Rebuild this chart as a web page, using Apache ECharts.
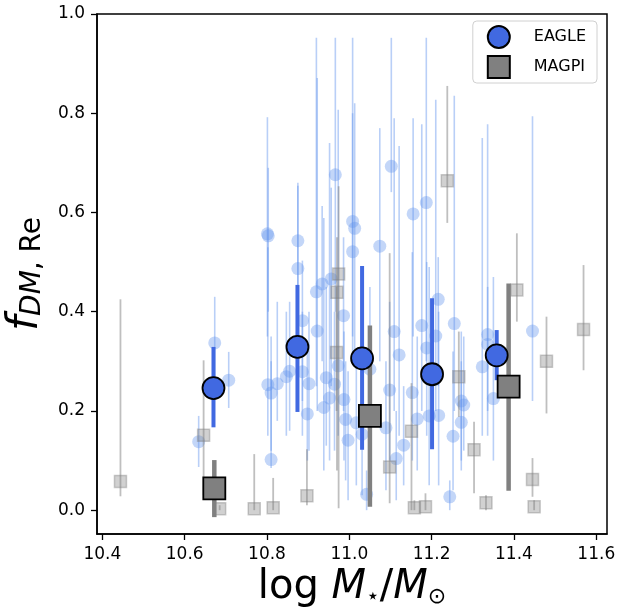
<!DOCTYPE html>
<html>
<head>
<meta charset="utf-8">
<script src="https://cdn.jsdelivr.net/npm/echarts@6/dist/echarts.min.js"></script>
<style>
html,body{margin:0;padding:0;background:#fff;}
#chart{width:617px;height:610px;}
</style>
</head>
<body>
<div id="chart"></div>
<script>
// ---- Data ----
const xTicks = [10.4, 10.6, 10.8, 11.0, 11.2, 11.4, 11.6];
const yTicks = [0.0, 0.2, 0.4, 0.6, 0.8, 1.0];

// EAGLE individual galaxies
const eagleX  = [10.634,10.673,10.707,10.801,10.803,10.802,10.810,10.825,10.810,10.847,10.875,10.875,10.855,10.886,10.886,10.902,10.898,10.920,10.934,10.956,10.922,10.944,10.938,10.952,10.966,10.964,10.973,10.986,10.987,10.991,10.997,11.008,11.013,11.008,11.017,11.031,11.042,11.050,11.074,11.098,11.089,11.102,11.109,11.121,11.114,11.132,11.153,11.155,11.165,11.176,11.187,11.188,11.194,11.210,11.216,11.217,11.244,11.252,11.255,11.272,11.278,11.272,11.323,11.336,11.336,11.350,11.445];
const eagleY  = [0.138,0.337,0.262,0.557,0.553,0.253,0.236,0.255,0.102,0.269,0.543,0.487,0.280,0.382,0.279,0.255,0.194,0.440,0.456,0.466,0.361,0.267,0.207,0.226,0.676,0.254,0.291,0.392,0.223,0.183,0.141,0.582,0.568,0.521,0.176,0.153,0.032,0.284,0.532,0.242,0.166,0.693,0.360,0.313,0.104,0.131,0.237,0.597,0.184,0.372,0.620,0.327,0.190,0.351,0.425,0.191,0.027,0.149,0.376,0.220,0.212,0.177,0.289,0.354,0.334,0.225,0.361];
const eagleLo = [0.087,0.250,0.206,0.350,0.400,0.150,0.120,0.180,0.085,0.150,0.300,0.350,0.160,0.220,0.150,0.120,0.100,0.250,0.300,0.250,0.200,0.130,0.080,0.100,0.400,0.120,0.150,0.200,0.100,0.060,0.020,0.350,0.300,0.300,0.050,0.030,0.000,0.150,0.300,0.100,0.040,0.641,0.200,0.150,0.020,0.050,0.100,0.350,0.080,0.200,0.300,0.150,0.050,0.200,0.250,0.050,0.000,0.040,0.200,0.100,0.120,0.080,0.150,0.150,0.200,0.100,0.220];
const eagleHi = [0.190,0.430,0.319,0.792,0.690,0.530,0.350,0.420,0.300,0.400,0.654,0.660,0.420,0.503,0.400,0.400,0.320,0.952,0.613,0.650,0.871,0.450,0.589,0.740,0.952,0.400,0.807,0.550,0.360,0.300,0.280,0.952,0.820,0.800,0.300,0.280,0.080,0.450,0.770,0.420,0.300,0.952,0.790,0.734,0.200,0.250,0.520,0.790,0.350,0.778,0.952,0.500,0.490,0.827,0.510,0.400,0.060,0.320,0.835,0.360,0.350,0.300,0.750,0.778,0.450,0.470,0.794];

// MAGPI individual galaxies
const magpiX  = [10.444,10.646,10.685,10.769,10.815,10.897,10.974,10.970,10.969,11.098,11.151,11.158,11.185,11.238,11.266,11.303,11.332,11.407,11.445,11.449,11.479,11.569];
const magpiY  = [0.058,0.151,0.003,0.003,0.005,0.029,0.476,0.439,0.318,0.087,0.159,0.005,0.007,0.664,0.269,0.122,0.015,0.444,0.062,0.007,0.300,0.364];
const magpiLo = [0.028,0.030,0.000,0.000,0.000,0.010,0.004,0.080,0.200,0.014,0.000,0.000,0.000,0.579,0.188,0.034,0.000,0.380,0.027,0.000,0.195,0.282];
const magpiHi = [0.425,0.302,0.010,0.113,0.065,0.123,0.653,0.550,0.450,0.518,0.256,0.020,0.034,0.855,0.360,0.178,0.030,0.558,0.105,0.020,0.390,0.494];

// Binned medians
const binEagleX  = [10.670, 10.874, 11.031, 11.201, 11.358];
const binEagleY  = [0.246, 0.329, 0.306, 0.274, 0.312];
const binEagleLo = [0.167, 0.198, 0.122, 0.123, 0.262];
const binEagleHi = [0.329, 0.454, 0.492, 0.427, 0.363];

const binMagpiX  = [10.672, 11.050, 11.387];
const binMagpiY  = [0.044, 0.190, 0.249];
const binMagpiLo = [-0.014, 0.007, 0.039];
const binMagpiHi = [0.101, 0.372, 0.457];

const legendNames = ['EAGLE', 'MAGPI'];

// ---- Build series data ----
function pts(xs, ys){ return xs.map((x,i)=>[x, ys[i]]); }
function bars(xs, lo, hi){ return xs.map((x,i)=>[x, lo[i], hi[i]]); }

function errorBarSeries(name, data, color, width, z){
  return {
    name: name,
    type: 'custom',
    z: z,
    silent: true,
    encode: {x: 0, y: [1, 2]},
    data: data,
    renderItem: function(params, api){
      const p1 = api.coord([api.value(0), api.value(1)]);
      const p2 = api.coord([api.value(0), api.value(2)]);
      return {
        type: 'line',
        shape: {x1: p1[0], y1: p1[1], x2: p2[0], y2: p2[1]},
        style: {stroke: color, lineWidth: width}
      };
    }
  };
}

const chart = echarts.init(document.getElementById('chart'), null, {renderer: 'canvas'});

const option = {
  animation: false,
  backgroundColor: '#ffffff',
  grid: {left: 97, right: 10, top: 14, bottom: 76, outerBoundsMode: 'none', containLabel: false,
         show: true, borderColor: '#000', borderWidth: 1.5, backgroundColor: 'transparent'},
  legend: {
    data: [
      {name: legendNames[0], icon: 'circle'},
      {name: legendNames[1], icon: 'path://M0,0H10V10H0Z'}
    ],
    orient: 'vertical',
    right: 20,
    top: 21,
    itemWidth: 22,
    itemHeight: 22,
    itemGap: 6,
    symbolKeepAspect: true,
    padding: [4, 11, 4, 14],
    backgroundColor: '#fff',
    borderColor: '#d0d0d0',
    borderWidth: 1,
    borderRadius: 4,
    formatter: '{t|{name}}',
    textStyle: {
      fontFamily: 'DejaVu Sans', fontSize: 16, color: '#000',
      rich: {t: {fontFamily: 'DejaVu Sans', fontSize: 16, color: '#000', padding: [0, 0, 0, 19]}}
    }
  },
  xAxis: {
    type: 'value',
    min: 10.387,
    max: 11.626,
    splitLine: {show: false},
    axisLine: {show: true, onZero: false, lineStyle: {color: '#000', width: 1.5}},
    axisTick: {show: true, length: 6, inside: false, customValues: xTicks, lineStyle: {color: '#000', width: 1.3}},
    axisLabel: {customValues: xTicks, formatter: v => v.toFixed(1), fontFamily: 'DejaVu Sans', fontSize: 17, color: '#000', margin: 12},
    name: '{r|log }{i|M}{s|⋆}{r|/}{i|M}{s|⊙}',
    nameLocation: 'middle',
    nameGap: 26,
    nameTextStyle: {
      fontFamily: 'DejaVu Sans', color: '#000',
      rich: {
        r: {fontFamily: 'DejaVu Sans', fontSize: 40, color: '#000', verticalAlign: 'bottom', lineHeight: 46},
        i: {fontFamily: 'DejaVu Sans', fontStyle: 'italic', fontSize: 40, color: '#000', verticalAlign: 'bottom', lineHeight: 46},
        s: {fontFamily: 'DejaVu Sans', fontSize: 22, color: '#000', verticalAlign: 'bottom', lineHeight: 30}
      }
    }
  },
  yAxis: {
    type: 'value',
    min: -0.048,
    max: 1.0,
    splitLine: {show: false},
    axisLine: {show: true, onZero: false, lineStyle: {color: '#000', width: 1.5}},
    axisTick: {show: true, length: 6, inside: false, customValues: yTicks, lineStyle: {color: '#000', width: 1.3}},
    axisLabel: {customValues: yTicks, formatter: v => v.toFixed(1), fontFamily: 'DejaVu Sans', fontSize: 17, color: '#000', margin: 12},
    name: '{f|f}{si|DM}{sr|, Re}',
    nameLocation: 'middle',
    nameRotate: 90,
    nameGap: 39,
    nameTextStyle: {
      color: '#000',
      rich: {
        f: {fontFamily: 'DejaVu Sans', fontStyle: 'italic', fontSize: 43, color: '#000', verticalAlign: 'bottom', lineHeight: 46},
        si: {fontFamily: 'DejaVu Sans', fontStyle: 'italic', fontSize: 28, color: '#000', verticalAlign: 'bottom', lineHeight: 32},
        sr: {fontFamily: 'DejaVu Sans', fontSize: 28, color: '#000', verticalAlign: 'bottom', lineHeight: 32}
      }
    }
  },
  series: [
    errorBarSeries('eagleErr', bars(eagleX, eagleLo, eagleHi), 'rgba(100,149,237,0.45)', 1.6, 1),
    {
      name: 'eaglePts', type: 'scatter', z: 2, silent: true,
      symbol: 'circle', symbolSize: 13,
      itemStyle: {color: 'rgba(100,149,237,0.48)', borderWidth: 0},
      data: pts(eagleX, eagleY)
    },
    errorBarSeries('magpiErr', bars(magpiX, magpiLo, magpiHi), 'rgba(128,128,128,0.5)', 1.8, 3),
    {
      name: 'magpiPts', type: 'scatter', z: 4, silent: true,
      symbol: 'rect', symbolSize: 12,
      itemStyle: {color: 'rgba(128,128,128,0.45)', borderColor: 'rgba(128,128,128,0.5)', borderWidth: 1.5},
      data: pts(magpiX, magpiY)
    },
    errorBarSeries('binEagleErr', bars(binEagleX, binEagleLo, binEagleHi), '#4169E1', 4, 5),
    errorBarSeries('binMagpiErr', bars(binMagpiX, binMagpiLo, binMagpiHi), '#808080', 4.5, 5),
    {
      name: legendNames[0], type: 'scatter', z: 6,
      symbol: 'circle', symbolSize: 22,
      itemStyle: {color: '#4169E1', borderColor: '#000', borderWidth: 1.8, opacity: 1},
      data: pts(binEagleX, binEagleY)
    },
    {
      name: legendNames[1], type: 'scatter', z: 7,
      symbol: 'rect', symbolSize: 22,
      itemStyle: {color: '#808080', borderColor: '#000', borderWidth: 1.8, opacity: 1},
      data: pts(binMagpiX, binMagpiY)
    }
  ]
};
chart.setOption(option);
</script>
</body>
</html>
